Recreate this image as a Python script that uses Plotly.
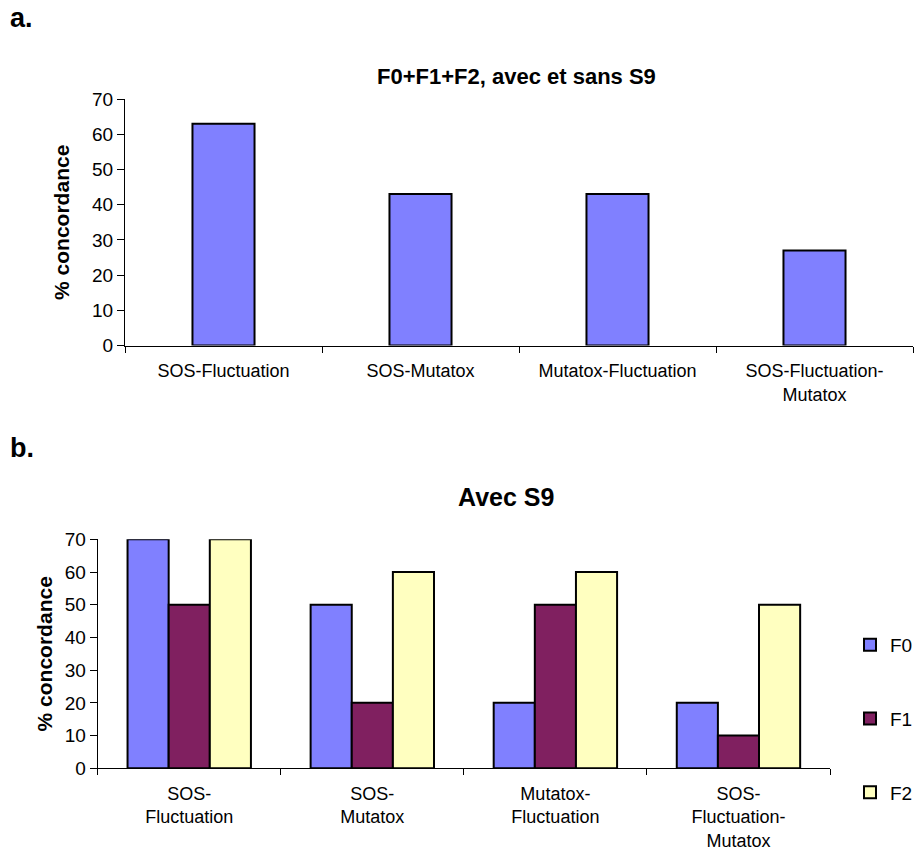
import plotly.graph_objects as go

# Panel a: all generations, with and without S9
cats_a = ["SOS-Fluctuation", "SOS-Mutatox", "Mutatox-Fluctuation", "SOS-Fluctuation-<br>Mutatox"]
vals_a = [63, 43, 43, 27]

# Panel b: with S9, per generation
cats_b = ["SOS-<br>Fluctuation", "SOS-<br>Mutatox", "Mutatox-<br>Fluctuation", "SOS-<br>Fluctuation-<br>Mutatox"]
f0 = [70, 50, 20, 20]
f1 = [50, 20, 50, 10]
f2 = [70, 60, 60, 50]
series_names = ["F0", "F1", "F2"]
series_colors = ["#8080FF", "#802060", "#FFFFC0"]

W, H = 914, 853
FONT = "Liberation Sans, Arial, sans-serif"

def px_x(x):
    return x / W

def px_y(y):
    return 1 - y / H

fig = go.Figure()

fig.add_trace(go.Bar(
    x=cats_a, y=vals_a, xaxis="x", yaxis="y", width=0.315,
    marker=dict(color="#8080FF", line=dict(color="black", width=2)),
    showlegend=False,
))

for name, vals, col in zip(series_names, [f0, f1, f2], series_colors):
    fig.add_trace(go.Bar(
        x=cats_b, y=vals, name=name, xaxis="x2", yaxis="y2",
        legendgroup=name,
        marker=dict(color=col, line=dict(color="black", width=2)),
    ))

tickfont = dict(family=FONT, size=18, color="black")
ytickfont = dict(family=FONT, size=19, color="black")
titlefont = dict(family=FONT, size=21, color="black", weight="bold")

dom_xa = [px_x(125), px_x(913)]
dom_ya = [px_y(345.6), px_y(99)]
dom_xb = [px_x(97.7), px_x(830)]
dom_yb = [px_y(768.3), px_y(539.3)]

common_x = dict(type="category", showline=True, linecolor="black", linewidth=1,
                ticks="outside", ticklen=6, tickcolor="black", tickwidth=1,
                tickson="boundaries", showgrid=False, tickfont=tickfont,
                ticklabelstandoff=9)
common_y = dict(range=[0, 70], dtick=10, showline=True, linecolor="black", linewidth=1,
                ticks="outside", ticklen=7, tickcolor="black", tickwidth=1,
                showgrid=False, zeroline=False, tickfont=ytickfont)

# tick marks crossing the category axis (inner half)
cross = dict(type="linear", range=[-0.5, 3.5], tickvals=[-0.5, 0.5, 1.5, 2.5, 3.5],
             ticks="inside", ticklen=6, tickcolor="black", tickwidth=1,
             showticklabels=False, showline=False, showgrid=False, zeroline=False)

fig.update_layout(
    width=W, height=H,
    margin=dict(l=0, r=0, t=0, b=0, autoexpand=False),
    paper_bgcolor="white", plot_bgcolor="white",
    font=dict(family=FONT, color="black"),
    barmode="group",
    bargap=0.326, bargroupgap=0,
    xaxis=dict(domain=dom_xa, anchor="y", **common_x),
    yaxis=dict(domain=dom_ya, anchor="x",
               title=dict(text="% concordance", font=titlefont, standoff=16), **common_y),
    xaxis2=dict(domain=dom_xb, anchor="y2", **common_x),
    yaxis2=dict(domain=dom_yb, anchor="x2",
                title=dict(text="% concordance", font=titlefont, standoff=6), **common_y),
    xaxis3=dict(overlaying="x", anchor="y", **cross),
    xaxis4=dict(overlaying="x2", anchor="y2", **cross),
    legend=dict(x=px_x(850), y=px_y(626), xanchor="left", yanchor="top",
                font=dict(family=FONT, size=19, color="black"),
                traceorder="grouped", tracegroupgap=46,
                itemwidth=30, bgcolor="rgba(0,0,0,0)"),
    annotations=[
        dict(text="<b>a.</b>", x=px_x(8), y=px_y(18), xref="paper", yref="paper",
             xanchor="left", yanchor="middle", showarrow=False,
             font=dict(family=FONT, size=27, color="black")),
        dict(text="<b>b.</b>", x=px_x(8), y=px_y(448), xref="paper", yref="paper",
             xanchor="left", yanchor="middle", showarrow=False,
             font=dict(family=FONT, size=27, color="black")),
        dict(text="<b>F0+F1+F2, avec et sans S9</b>", x=px_x(516), y=px_y(76),
             xref="paper", yref="paper", xanchor="center", yanchor="middle",
             showarrow=False, font=dict(family=FONT, size=22, color="black")),
        dict(text="<b>Avec S9</b>", x=px_x(506), y=px_y(497),
             xref="paper", yref="paper", xanchor="center", yanchor="middle",
             showarrow=False, font=dict(family=FONT, size=25, color="black")),
    ],
)

fig.write_html("out.html")
